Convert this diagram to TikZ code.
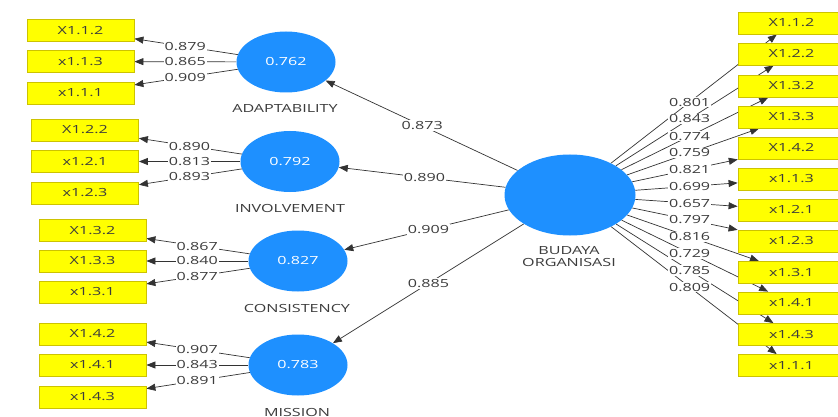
\documentclass[tikz,border=0pt]{standalone}
\usepackage{fontspec}
\setmainfont{Open Sans}[FakeStretch=1.44]
\usetikzlibrary{arrows.meta,shapes.geometric,backgrounds}
\definecolor{lvblue}{RGB}{30,144,255}
\definecolor{mvyellow}{RGB}{255,255,0}
\definecolor{mvborder}{RGB}{205,195,0}
\definecolor{ink}{RGB}{60,60,60}

\begin{document}
\begin{tikzpicture}[x=1pt, y=-1pt, font=\fontsize{11.2}{12}\selectfont,
    lv/.style = {ellipse, fill=lvblue, text=white, minimum width=99pt, minimum height=61pt, inner sep=0pt},
    lvname/.style = {text=ink, align=center},
    mv/.style = {rectangle, draw=mvborder, fill=mvyellow, line width=0.8pt, text=ink, minimum width=107pt, minimum height=22pt, inner sep=0pt},
    load/.style = {draw=black!80, line width=0.7pt, -{Triangle[length=9pt,width=7pt]}},
    coef/.style = {fill=white, text=ink, inner sep=1.2pt}]

    \useasboundingbox (0,0) rectangle (838,417);
    \begin{scope}[on background layer]
        \fill[white] (0,0) rectangle (838,417);
    \end{scope}

    % latent variables
    \node[lv, minimum width=131pt, minimum height=81pt] (budaya) at (570,195) {};
    \node[lv] (adapt) at (286,62) {0.762};
    \node[lv] (invol) at (290,161.5) {0.792};
    \node[lv] (consis) at (298,261) {0.827};
    \node[lv] (mission) at (298,365) {0.783};

    \node[lvname] (budayaname) at (569,257) {BUDAYA\\ORGANISASI};
    \node[lvname] (adaptname) at (285,108) {ADAPTABILITY};
    \node[lvname] (involname) at (290,208) {INVOLVEMENT};
    \node[lvname] (consisname) at (297,308) {CONSISTENCY};
    \node[lvname] (missionname) at (297,412) {MISSION};

    % indicators
    \foreach \n/\t/\x/\y in {L1/X1.1.2/80.5/30.5, L2/x1.1.3/80.5/61.5, L3/x1.1.1/80.5/93,
        L4/X1.2.2/85/130, L5/x1.2.1/85/161.5, L6/x1.2.3/85/193,
        L7/X1.3.2/92.5/230.5, L8/X1.3.3/92.5/261, L9/x1.3.1/92.5/292,
        L10/X1.4.2/92.5/334, L11/x1.4.1/92.5/365, L12/x1.4.3/92.5/397}
        \node[mv] (\n) at (\x,\y) {\t};
    \foreach \n/\t/\y in {R1/X1.1.2/23, R2/X1.2.2/54, R3/X1.3.2/86, R4/X1.3.3/117,
        R5/X1.4.2/148, R6/x1.1.3/179, R7/x1.2.1/210, R8/x1.2.3/241,
        R9/x1.3.1/272.5, R10/x1.4.1/303, R11/x1.4.3/334.5, R12/x1.1.1/365.5}
        \node[mv] (\n) at (791.5,\y) {\t};

    % paths and loadings
    \foreach \a/\b/\v/\p in {adapt/L1/0.879/.49, adapt/L2/0.865/.49, adapt/L3/0.909/.49,
        invol/L4/0.890/.49, invol/L5/0.813/.49, invol/L6/0.893/.49,
        consis/L7/0.867/.49, consis/L8/0.840/.49, consis/L9/0.877/.49,
        mission/L10/0.907/.49, mission/L11/0.843/.49, mission/L12/0.891/.49,
        budaya/adapt/0.873/.52, budaya/invol/0.890/.52, budaya/consis/0.909/.52, budaya/mission/0.885/.52,
        budaya/R1/0.801/.54, budaya/R2/0.843/.54, budaya/R3/0.774/.54, budaya/R4/0.759/.54,
        budaya/R5/0.821/.54, budaya/R6/0.699/.54, budaya/R7/0.657/.54, budaya/R8/0.797/.54,
        budaya/R9/0.816/.54, budaya/R10/0.729/.54, budaya/R11/0.785/.54, budaya/R12/0.809/.54}
    {
        \begin{scope}[on background layer]
            \draw[load] (\a) -- (\b);
        \end{scope}
        \path (\a.center) -- (\b.center) node[coef, pos=\p] {\v};
    }

\end{tikzpicture}
\end{document}
